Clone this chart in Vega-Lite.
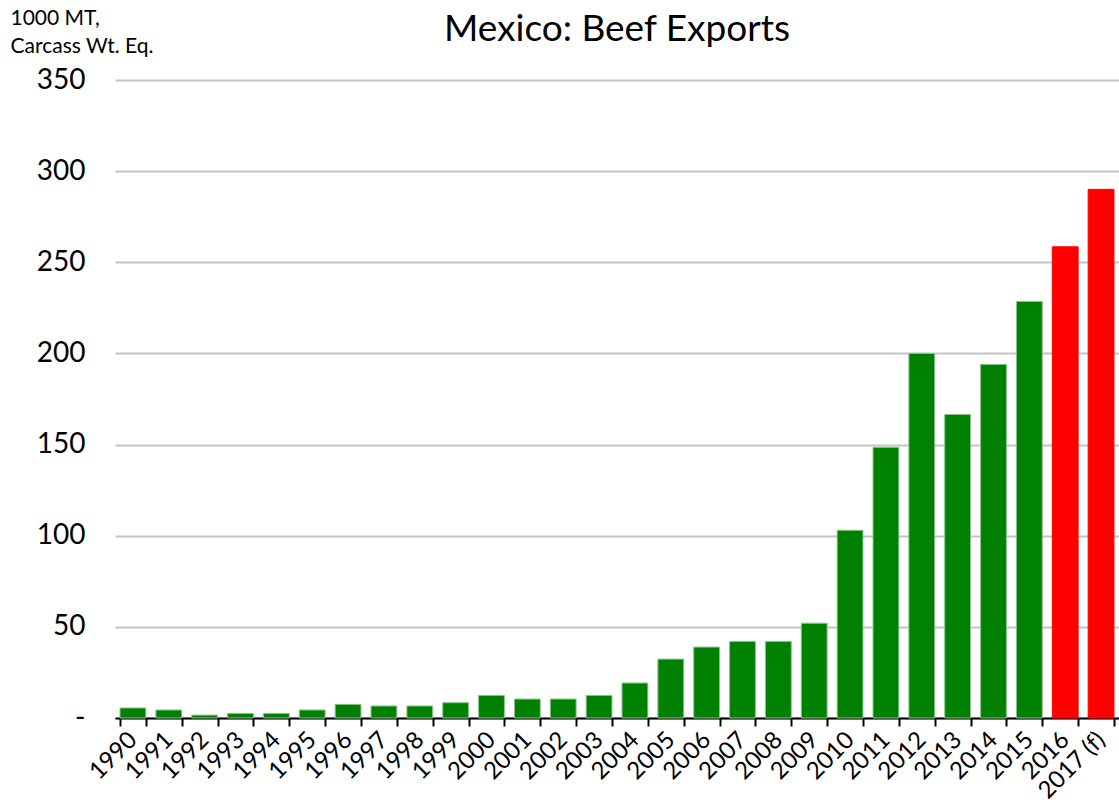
{
  "$schema": "https://vega.github.io/schema/vega-lite/v6.json",
  "autosize": {"type": "none"},
  "width": 1004,
  "height": 638,
  "padding": {"left": 115, "top": 80, "right": 0, "bottom": 90},
  "background": "white",
  "title": {"text": "Mexico: Beef Exports", "fontSize": 37, "font": "Lato", "fontWeight": "normal", "color": "black", "anchor": "middle", "offset": 0, "dy": 42},
  "config": {"view": {"stroke": null}, "font": "Lato"},
  "data": {"values": [
    {"year": "1990", "exports": 5.5},
    {"year": "1991", "exports": 4.4},
    {"year": "1992", "exports": 1.6},
    {"year": "1993", "exports": 2.5},
    {"year": "1994", "exports": 2.5},
    {"year": "1995", "exports": 4.4},
    {"year": "1996", "exports": 7.5},
    {"year": "1997", "exports": 6.6},
    {"year": "1998", "exports": 6.6},
    {"year": "1999", "exports": 8.4},
    {"year": "2000", "exports": 12.4},
    {"year": "2001", "exports": 10.4},
    {"year": "2002", "exports": 10.4},
    {"year": "2003", "exports": 12.4},
    {"year": "2004", "exports": 19.2},
    {"year": "2005", "exports": 32.3},
    {"year": "2006", "exports": 38.9},
    {"year": "2007", "exports": 42},
    {"year": "2008", "exports": 42},
    {"year": "2009", "exports": 52},
    {"year": "2010", "exports": 103},
    {"year": "2011", "exports": 148.5},
    {"year": "2012", "exports": 200},
    {"year": "2013", "exports": 166.5},
    {"year": "2014", "exports": 194},
    {"year": "2015", "exports": 228.5},
    {"year": "2016", "exports": 258.5},
    {"year": "2017 (f)", "exports": 290}
  ]},
  "mark": {"type": "bar", "strokeWidth": 1},
  "encoding": {
    "x": {
      "field": "year", "type": "nominal", "sort": null,
      "scale": {"paddingInner": 0.28, "paddingOuter": 0.14},
      "axis": {
        "title": null, "labelAngle": -45, "labelAlign": "right", "labelBaseline": "middle",
        "labelFontSize": 24, "labelColor": "black", "labelPadding": 10,
        "tickBand": "extent", "tickColor": "black", "tickWidth": 2, "tickSize": 8,
        "domainColor": "black", "domainWidth": 2, "grid": false
      }
    },
    "y": {
      "field": "exports", "type": "quantitative",
      "scale": {"domain": [0, 350]},
      "axis": {
        "title": ["1000 MT,", "Carcass Wt. Eq."],
        "titleAngle": 0, "titleAlign": "left", "titleBaseline": "top",
        "titleX": -105, "titleY": -73, "titleFontSize": 21, "titleFontWeight": "normal",
        "titleLineHeight": 28, "titleColor": "black",
        "values": [0, 50, 100, 150, 200, 250, 300, 350],
        "labelExpr": "datum.value == 0 ? '-' : datum.label",
        "labelFontSize": 28, "labelColor": "black", "labelPadding": 30,
        "domain": false, "ticks": false,
        "grid": true, "gridColor": "#c4c4c4", "gridWidth": 2
      }
    },
    "color": {
      "condition": {"test": "datum.year == '2016' || datum.year == '2017 (f)'", "value": "#ff0000"},
      "value": "#008000"
    },
    "stroke": {
      "condition": {"test": "datum.year == '2016' || datum.year == '2017 (f)'", "value": "#ff0000"},
      "value": "#8cc48c"
    }
  }
}
